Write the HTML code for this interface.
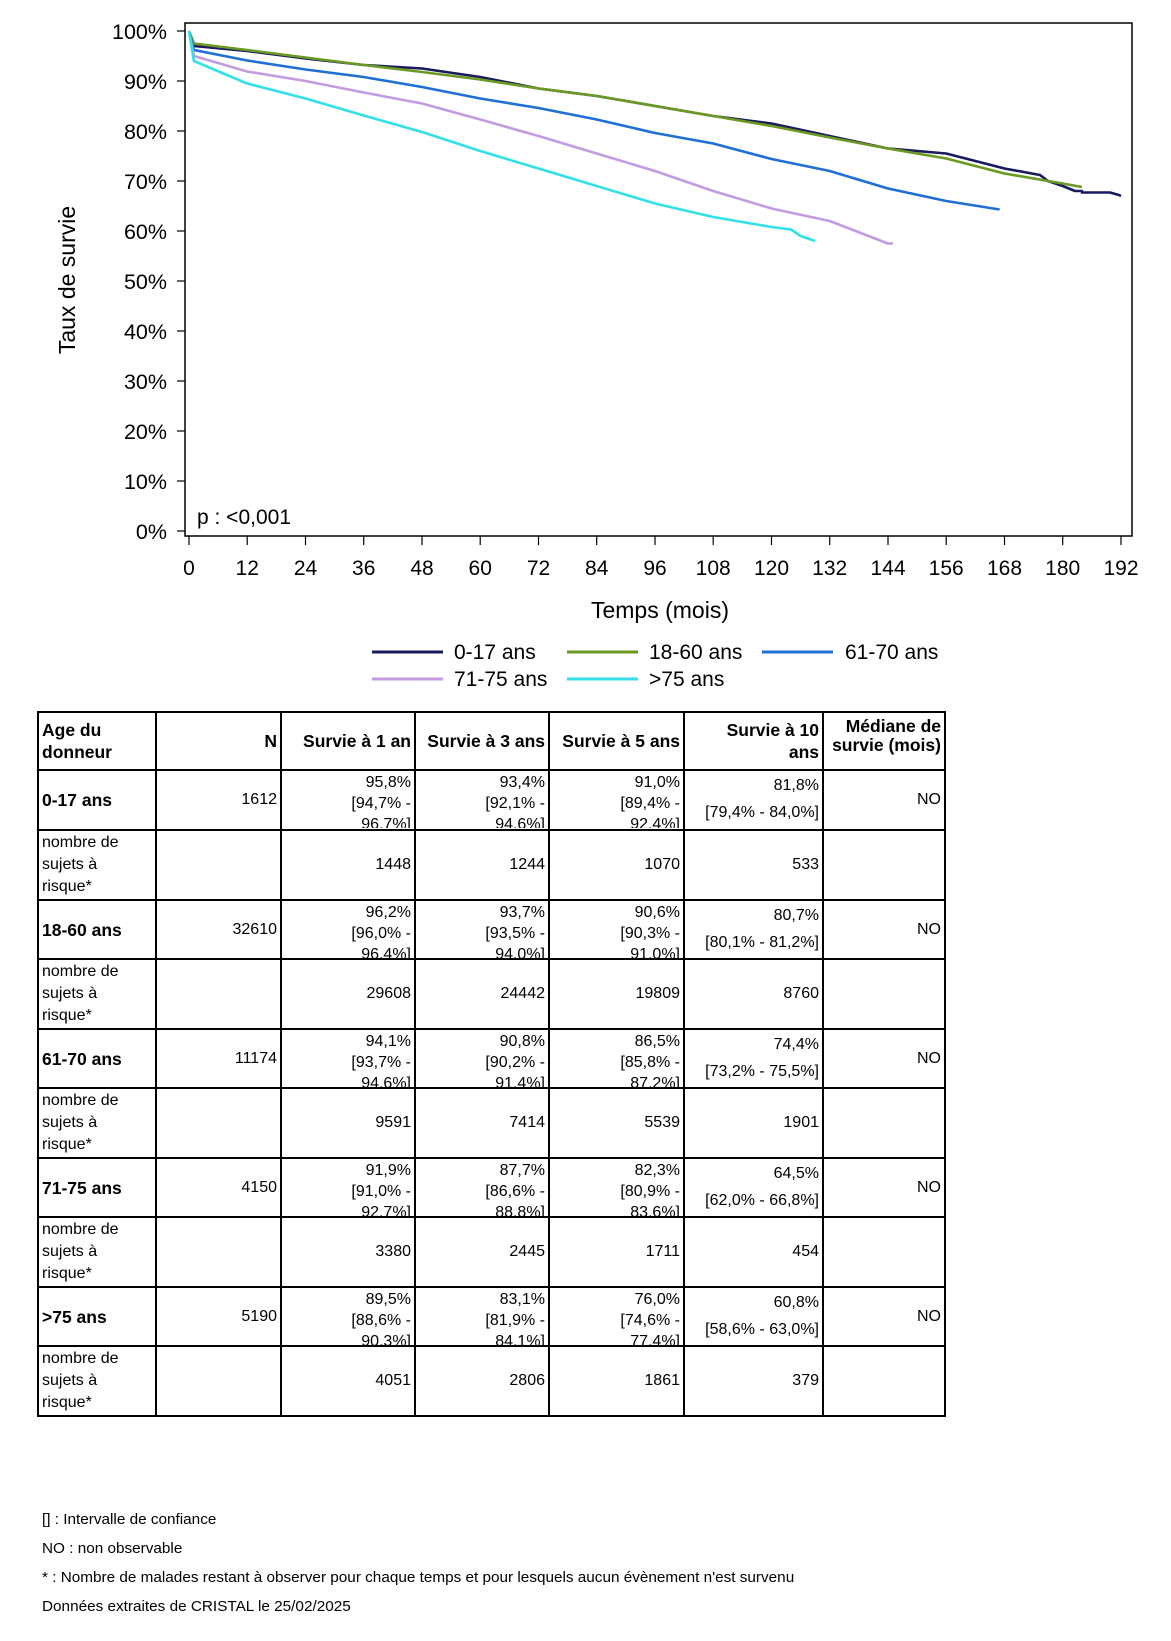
<!DOCTYPE html>
<html><head><meta charset="utf-8">
<style>
body{margin:0;background:#fff;width:1171px;height:1641px;position:relative;overflow:hidden;font-family:"Liberation Sans",Arial,sans-serif;}
svg{position:absolute;left:0;top:0}
table{position:absolute;left:37px;top:711px;border-collapse:collapse;table-layout:fixed;font-size:16px;color:#000}
td{border:2px solid #000;padding:0 3px;vertical-align:middle;text-align:right;overflow:hidden;line-height:22px}
td.l{text-align:left}
td.b{font-weight:bold;font-size:17.5px}
.ci{overflow:hidden;line-height:21px}
.foot{position:absolute;left:42px;font-size:15px;color:#000;transform:scaleX(1.02);transform-origin:left}
</style></head><body>
<svg width="1171" height="700" xmlns="http://www.w3.org/2000/svg" font-family="Liberation Sans, Arial, sans-serif">
<rect x="185" y="23" width="947" height="513" fill="none" stroke="#000" stroke-width="1.5"/>
<g stroke="#000" stroke-width="1.2">
<line x1="177" y1="31" x2="185" y2="31"/><line x1="177" y1="81" x2="185" y2="81"/><line x1="177" y1="131" x2="185" y2="131"/><line x1="177" y1="181" x2="185" y2="181"/><line x1="177" y1="231" x2="185" y2="231"/><line x1="177" y1="281" x2="185" y2="281"/><line x1="177" y1="331" x2="185" y2="331"/><line x1="177" y1="381" x2="185" y2="381"/><line x1="177" y1="431" x2="185" y2="431"/><line x1="177" y1="481" x2="185" y2="481"/><line x1="177" y1="531" x2="185" y2="531"/>
<line x1="189" y1="536" x2="189" y2="545"/><line x1="247.2" y1="536" x2="247.2" y2="545"/><line x1="305.5" y1="536" x2="305.5" y2="545"/><line x1="363.7" y1="536" x2="363.7" y2="545"/><line x1="422" y1="536" x2="422" y2="545"/><line x1="480.2" y1="536" x2="480.2" y2="545"/><line x1="538.5" y1="536" x2="538.5" y2="545"/><line x1="596.7" y1="536" x2="596.7" y2="545"/><line x1="655" y1="536" x2="655" y2="545"/><line x1="713.2" y1="536" x2="713.2" y2="545"/><line x1="771.5" y1="536" x2="771.5" y2="545"/><line x1="829.7" y1="536" x2="829.7" y2="545"/><line x1="888" y1="536" x2="888" y2="545"/><line x1="946.2" y1="536" x2="946.2" y2="545"/><line x1="1004.5" y1="536" x2="1004.5" y2="545"/><line x1="1062.7" y1="536" x2="1062.7" y2="545"/><line x1="1121" y1="536" x2="1121" y2="545"/>
</g>
<g font-size="21.5" text-anchor="end" fill="#000">
<text x="167" y="39">100%</text><text x="167" y="89">90%</text><text x="167" y="139">80%</text><text x="167" y="189">70%</text><text x="167" y="239">60%</text><text x="167" y="289">50%</text><text x="167" y="339">40%</text><text x="167" y="389">30%</text><text x="167" y="439">20%</text><text x="167" y="489">10%</text><text x="167" y="539">0%</text>
</g>
<g font-size="21" text-anchor="middle" fill="#000">
<text x="189" y="575">0</text><text x="247.2" y="575">12</text><text x="305.5" y="575">24</text><text x="363.7" y="575">36</text><text x="422" y="575">48</text><text x="480.2" y="575">60</text><text x="538.5" y="575">72</text><text x="596.7" y="575">84</text><text x="655" y="575">96</text><text x="713.2" y="575">108</text><text x="771.5" y="575">120</text><text x="829.7" y="575">132</text><text x="888" y="575">144</text><text x="946.2" y="575">156</text><text x="1004.5" y="575">168</text><text x="1062.7" y="575">180</text><text x="1121" y="575">192</text>
<text x="660" y="618" font-size="23">Temps (mois)</text>
<text transform="translate(75,280) rotate(-90)" font-size="23">Taux de survie</text>
</g>
<text x="197" y="524" font-size="21">p : &lt;0,001</text>
<g fill="none" stroke-width="2.6" stroke-linejoin="round">
<polyline stroke="#1a1a5e" points="189,31 193.9,46 247.2,51 305.5,58.5 363.7,65 422,68.5 480.2,77 538.5,88.5 596.7,96 655,106 713.2,116 771.5,123.5 829.7,136 888,148.5 946.2,153.5 1004.5,168.5 1040,175 1048,181 1062.7,186 1075,191 1082,191 1082,192.5 1110,192.5 1119,195 1121,196"/>
<polyline stroke="#6b9a22" points="189,31 193.9,43.5 247.2,50 305.5,57.5 363.7,65 422,72 480.2,79.5 538.5,88.5 596.7,96 655,106 713.2,116 771.5,126 829.7,137.5 888,148.5 946.2,158.5 1004.5,173.5 1062.7,183.5 1082,187"/>
<polyline stroke="#1f6fd6" points="189,31 193.9,50 247.2,60.5 305.5,69.5 363.7,77 422,87 480.2,98.5 538.5,108 596.7,119.5 655,133 713.2,143.5 771.5,159 829.7,171 888,188.5 946.2,201 999.6,209.5"/>
<polyline stroke="#c39be0" points="189,31 193.9,56 247.2,71.5 305.5,81 363.7,92.5 422,103.5 480.2,119.5 538.5,136 596.7,153.5 655,171 713.2,191 771.5,208.5 829.7,221 868.5,236 888,243.5 893,243.5"/>
<polyline stroke="#33e0e8" points="189,31 193.9,61 247.2,83.5 305.5,98.5 363.7,115.5 422,132 480.2,151 538.5,168.5 596.7,186 655,203.5 713.2,217 771.5,227 791,229.5 800.7,236 815.2,241"/>
</g>
<g stroke-width="3">
<line x1="372" y1="652" x2="443" y2="652" stroke="#1a1a5e"/>
<line x1="567" y1="652" x2="638" y2="652" stroke="#6b9a22"/>
<line x1="762" y1="652" x2="833" y2="652" stroke="#1f6fd6"/>
<line x1="372" y1="679" x2="443" y2="679" stroke="#c39be0"/>
<line x1="567" y1="679" x2="638" y2="679" stroke="#33e0e8"/>
</g>
<g font-size="21" fill="#000">
<text x="454" y="659">0-17 ans</text><text x="649" y="659">18-60 ans</text><text x="845" y="659">61-70 ans</text>
<text x="454" y="686">71-75 ans</text><text x="649" y="686">&gt;75 ans</text>
</g>
</svg>
<table>
<colgroup><col style="width:118px"><col style="width:125px"><col style="width:134px"><col style="width:134px"><col style="width:135px"><col style="width:139px"><col style="width:122px"></colgroup>
<tr style="height:58px"><td class="l b">Age du<br>donneur</td><td class="b">N</td><td class="b">Survie à 1 an</td><td class="b">Survie à 3 ans</td><td class="b">Survie à 5 ans</td><td class="b">Survie à 10<br>ans</td><td class="b" style="vertical-align:top"><div style="height:54px;overflow:hidden;line-height:19px;padding-top:4px;box-sizing:border-box">Médiane de survie (mois)</div></td></tr>
<tr style="height:60px"><td class="l b">0-17 ans</td><td>1612</td><td><div class="ci" style="height:56px">95,8%<br>[94,7% -<br>96,7%]</div></td><td><div class="ci" style="height:56px">93,4%<br>[92,1% -<br>94,6%]</div></td><td><div class="ci" style="height:56px">91,0%<br>[89,4% -<br>92,4%]</div></td><td><div class="ci" style="height:56px;line-height:27px">81,8%<br>[79,4% - 84,0%]</div></td><td>NO</td></tr>
<tr style="height:70px"><td class="l">nombre de<br>sujets à<br>risque*</td><td></td><td>1448</td><td>1244</td><td>1070</td><td>533</td><td></td></tr>
<tr style="height:59px"><td class="l b">18-60 ans</td><td>32610</td><td><div class="ci" style="height:56px">96,2%<br>[96,0% -<br>96,4%]</div></td><td><div class="ci" style="height:56px">93,7%<br>[93,5% -<br>94,0%]</div></td><td><div class="ci" style="height:56px">90,6%<br>[90,3% -<br>91,0%]</div></td><td><div class="ci" style="height:56px;line-height:27px">80,7%<br>[80,1% - 81,2%]</div></td><td>NO</td></tr>
<tr style="height:70px"><td class="l">nombre de<br>sujets à<br>risque*</td><td></td><td>29608</td><td>24442</td><td>19809</td><td>8760</td><td></td></tr>
<tr style="height:59px"><td class="l b">61-70 ans</td><td>11174</td><td><div class="ci" style="height:56px">94,1%<br>[93,7% -<br>94,6%]</div></td><td><div class="ci" style="height:56px">90,8%<br>[90,2% -<br>91,4%]</div></td><td><div class="ci" style="height:56px">86,5%<br>[85,8% -<br>87,2%]</div></td><td><div class="ci" style="height:56px;line-height:27px">74,4%<br>[73,2% - 75,5%]</div></td><td>NO</td></tr>
<tr style="height:70px"><td class="l">nombre de<br>sujets à<br>risque*</td><td></td><td>9591</td><td>7414</td><td>5539</td><td>1901</td><td></td></tr>
<tr style="height:59px"><td class="l b">71-75 ans</td><td>4150</td><td><div class="ci" style="height:56px">91,9%<br>[91,0% -<br>92,7%]</div></td><td><div class="ci" style="height:56px">87,7%<br>[86,6% -<br>88,8%]</div></td><td><div class="ci" style="height:56px">82,3%<br>[80,9% -<br>83,6%]</div></td><td><div class="ci" style="height:56px;line-height:27px">64,5%<br>[62,0% - 66,8%]</div></td><td>NO</td></tr>
<tr style="height:70px"><td class="l">nombre de<br>sujets à<br>risque*</td><td></td><td>3380</td><td>2445</td><td>1711</td><td>454</td><td></td></tr>
<tr style="height:59px"><td class="l b">&gt;75 ans</td><td>5190</td><td><div class="ci" style="height:56px">89,5%<br>[88,6% -<br>90,3%]</div></td><td><div class="ci" style="height:56px">83,1%<br>[81,9% -<br>84,1%]</div></td><td><div class="ci" style="height:56px">76,0%<br>[74,6% -<br>77,4%]</div></td><td><div class="ci" style="height:56px;line-height:27px">60,8%<br>[58,6% - 63,0%]</div></td><td>NO</td></tr>
<tr style="height:70px"><td class="l">nombre de<br>sujets à<br>risque*</td><td></td><td>4051</td><td>2806</td><td>1861</td><td>379</td><td></td></tr>
</table>
<div class="foot" style="top:1511px">[] : Intervalle de confiance</div>
<div class="foot" style="top:1540px">NO : non observable</div>
<div class="foot" style="top:1569px">* : Nombre de malades restant à observer pour chaque temps et pour lesquels aucun évènement n'est survenu</div>
<div class="foot" style="top:1598px">Données extraites de CRISTAL le 25/02/2025</div>
</body></html>
